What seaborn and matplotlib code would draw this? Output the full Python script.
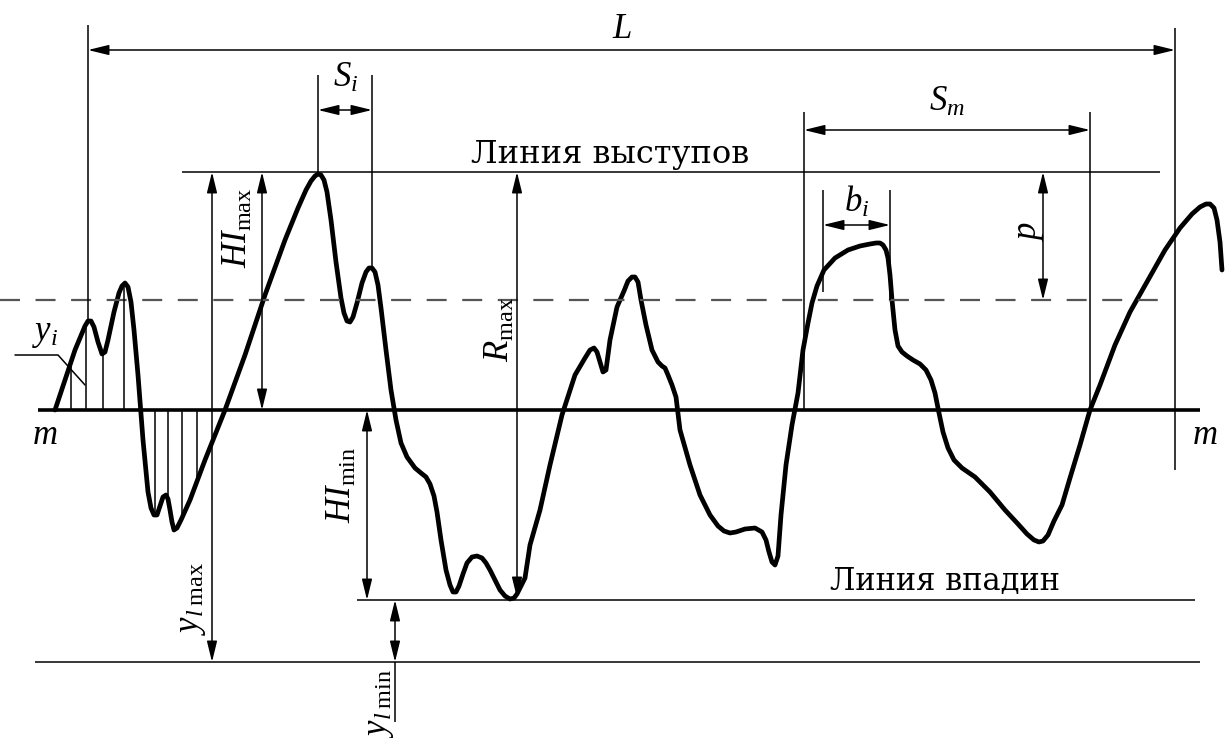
import numpy as np
import matplotlib
matplotlib.use("Agg")
import matplotlib.pyplot as plt
import seaborn as sns

# ---- data (diagram coordinates, y measured downward) ----
profile_x = [55, 65, 75, 82, 85, 88, 91, 94, 98, 102, 105, 108, 114, 119, 122, 125, 128, 131, 134, 138, 143, 148,
             151, 154, 157, 160, 163, 166, 168, 170, 172, 174, 177, 181, 190, 205, 225, 245, 265, 285, 298, 306,
             311, 315, 318, 321, 324, 327, 331, 336, 341, 344, 347, 350, 353, 357, 362, 366, 369, 372, 375, 378,
             381, 386, 391, 396, 401, 407, 415, 421, 426, 430, 434, 437, 441, 446, 450, 453, 456, 459, 463, 467,
             472, 477, 482, 486, 490, 495, 500, 505, 510, 514, 517, 521, 525, 530, 540, 550, 562, 575, 585, 590,
             594, 597, 600, 603, 606, 610, 617, 624, 628, 632, 635, 638, 641, 646, 652, 658, 662, 665, 668, 672,
             676, 680, 690, 700, 710, 718, 724, 730, 736, 745, 755, 762, 766, 769, 772, 775, 778, 781, 786, 792,
             798, 803, 808, 812, 817, 824, 835, 848, 860, 870, 876, 880, 883, 886, 888, 890, 892, 895, 898, 902,
             907, 913, 920, 926, 931, 935, 939, 943, 948, 954, 962, 975, 990, 1005, 1018, 1027, 1034, 1039, 1043,
             1048, 1054, 1062, 1070, 1080, 1090, 1100, 1115, 1130, 1148, 1165, 1180, 1192, 1200, 1206, 1210, 1214,
             1217, 1220, 1222]
profile_y = [410, 380, 350, 333, 326, 321, 321, 327, 342, 354, 352, 340, 312, 293, 286, 283, 287, 302, 330, 375, 440,
             492, 508, 515, 515, 506, 497, 495, 499, 510, 522, 530, 528, 520, 500, 460, 410, 355, 295, 240, 208, 190,
             181, 176, 174, 175, 180, 192, 220, 262, 298, 313, 321, 322, 317, 303, 283, 272, 268, 268, 272, 285, 308,
             350, 390, 420, 443, 457, 468, 473, 477, 484, 496, 512, 540, 570, 585, 592, 592, 586, 574, 563, 557, 556,
             558, 563, 570, 580, 590, 596, 599, 598, 594, 586, 578, 545, 510, 465, 415, 375, 358, 350, 348, 352, 362,
             372, 370, 340, 307, 291, 281, 277, 277, 282, 300, 325, 350, 362, 366, 368, 375, 385, 397, 430, 465, 495,
             515, 526, 531, 533, 532, 529, 528, 532, 540, 552, 562, 565, 556, 515, 465, 425, 393, 350, 323, 303, 286,
             270, 258, 250, 246, 244, 243, 243, 245, 250, 258, 275, 300, 330, 346, 352, 356, 360, 364, 370, 380, 393,
             413, 432, 448, 460, 468, 477, 492, 510, 524, 534, 540, 542, 541, 535, 521, 505, 478, 445, 410, 385, 345,
             312, 280, 250, 228, 214, 207, 204, 204, 208, 220, 242, 270]

mean_y = 410          # line m
peak_y = 172          # peak line
valley_y = 600        # valley line
dash_y = 300          # dashed level
base_y = 662          # lower reference line
hatch_pos = [71, 86, 103, 124]
hatch_neg = [155, 168, 182, 197]

labels_title = ["Линия выступов", "Линия впадин"]

sns.set_theme(style="white")
plt.rcParams['font.family'] = ['Liberation Serif', 'DejaVu Serif']
plt.rcParams['mathtext.fontset'] = 'custom'
plt.rcParams['mathtext.rm'] = 'Liberation Serif'
plt.rcParams['mathtext.it'] = 'Liberation Serif:italic'
plt.rcParams['text.color'] = 'black'

fig = plt.figure(figsize=(12.27, 7.38), dpi=100)
ax = fig.add_axes([0, 0, 1, 1])
ax.set_xlim(0, 1227)
ax.set_ylim(738, 0)
ax.axis('off')

K = 'black'
thin = 1.1

# profile
sns.lineplot(x=profile_x, y=profile_y, sort=False, estimator=None, color=K, lw=3.4, ax=ax)
ax.lines[-1].set_solid_joinstyle('round')
ax.lines[-1].set_solid_capstyle('round')

# horizontal lines
ax.hlines(mean_y, 38, 1200, color=K, lw=2.6)
ax.hlines(dash_y, 0, 1165, color='#555555', lw=1.6, linestyles=(0, (9, 7)))
ax.hlines(peak_y, 182, 1160, color=K, lw=thin)
ax.hlines(valley_y, 357, 1195, color=K, lw=thin)
ax.hlines(base_y, 35, 1200, color=K, lw=thin)

# hatch ordinates
for hx in hatch_pos + hatch_neg:
    hy = np.interp(hx, profile_x, profile_y)
    ax.vlines(hx, min(hy, mean_y), max(hy, mean_y), color=K, lw=thin)

# vertical extension lines
ax.vlines(88, 25, 320, color=K, lw=thin)
ax.vlines(1175, 28, 470, color=K, lw=thin)
ax.vlines(318, 75, 175, color=K, lw=thin)
ax.vlines(372, 75, 268, color=K, lw=thin)
ax.vlines(804, 112, 410, color=K, lw=thin)
ax.vlines(1090, 112, 410, color=K, lw=thin)
ax.vlines(823, 190, 292, color=K, lw=thin)
ax.vlines(890, 190, 300, color=K, lw=thin)
ax.vlines(395, 662, 722, color=K, lw=thin)

def arrow(x0, y0, x1, y1):
    ax.annotate('', xy=(x1, y1), xytext=(x0, y0),
                arrowprops=dict(arrowstyle='<|-|>,head_length=0.9,head_width=0.22',
                                color=K, lw=thin, shrinkA=0, shrinkB=0, mutation_scale=14))

arrow(88, 50, 1175, 50)        # L
arrow(318, 110, 372, 110)      # S_i
arrow(804, 130, 1090, 130)     # S_m
arrow(823, 225, 890, 225)      # b_i
arrow(1043, 172, 1043, 300)    # p
arrow(262, 172, 262, 410)      # HI_max
arrow(212, 172, 212, 662)      # y_l max
arrow(517, 172, 517, 598)      # R_max
arrow(367, 410, 367, 600)      # HI_min
arrow(395, 600, 395, 662)      # y_l min

# y_i leader
ax.plot([15, 58, 85], [355, 355, 385], color=K, lw=thin)

fs = 25
ax.text(622, 30, r'$L$', fontsize=fs, ha='center', va='center')
ax.text(346, 78, r'$S_i$', fontsize=fs, ha='center', va='center')
ax.text(947, 102, r'$S_m$', fontsize=fs, ha='center', va='center')
ax.text(857, 202, r'$b_i$', fontsize=fs, ha='center', va='center')
ax.text(1030, 232, r'$p$', fontsize=fs, ha='center', va='center', rotation=90)
ax.text(238, 228, r'$HI_{\mathrm{max}}$', fontsize=fs, ha='center', va='center', rotation=90)
ax.text(500, 330, r'$R_{\mathrm{max}}$', fontsize=fs, ha='center', va='center', rotation=90)
ax.text(342, 485, r'$HI_{\mathrm{min}}$', fontsize=fs, ha='center', va='center', rotation=90)
ax.text(192, 598, r'$y_{l\;\mathrm{max}}$', fontsize=fs, ha='center', va='center', rotation=90)
ax.text(380, 703, r'$y_{l\;\mathrm{min}}$', fontsize=fs, ha='center', va='center', rotation=90)
ax.text(45, 333, r'$y_i$', fontsize=fs, ha='center', va='center')
ax.text(45, 436, r'$m$', fontsize=fs, ha='center', va='center')
ax.text(1205, 436, r'$m$', fontsize=fs, ha='center', va='center')
ax.text(610, 155, labels_title[0], fontsize=23, ha='center', va='center', family=['DejaVu Serif'])
ax.text(945, 581, labels_title[1], fontsize=22, ha='center', va='center', family=['DejaVu Serif'])

fig.savefig('out.png', dpi=100)
